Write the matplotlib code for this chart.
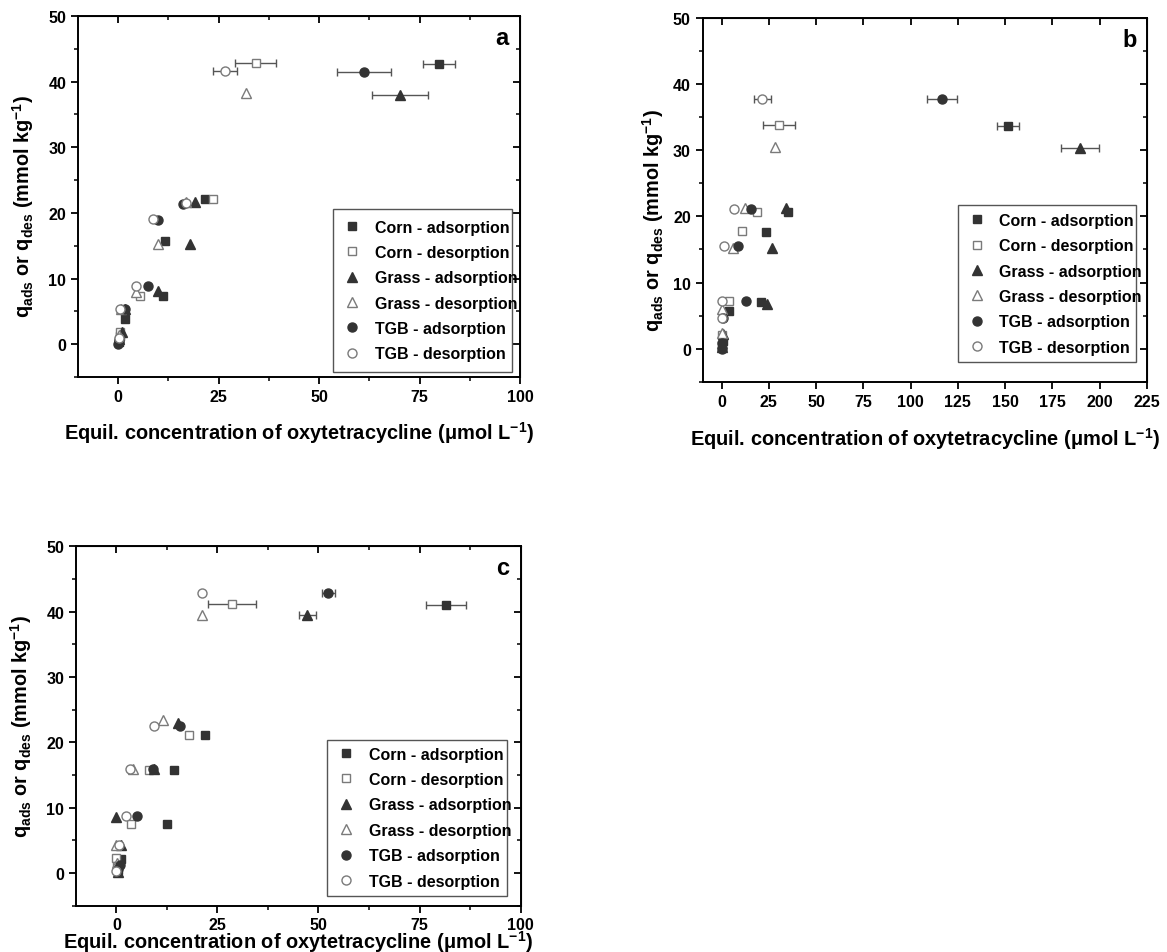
import matplotlib
matplotlib.use("Agg")
import matplotlib.pyplot as plt
from matplotlib.patches import Rectangle
from matplotlib.ticker import MultipleLocator

# ---- data (x = equil. conc., y = q) ----
SERIES = ["Corn - adsorption", "Corn - desorption", "Grass - adsorption",
          "Grass - desorption", "TGB - adsorption", "TGB - desorption"]

# panel a
A_CORN_ADS_X = [79.8, 21.5, 11.6, 11.2, 1.6, 0.5, 0.2]
A_CORN_ADS_Y = [42.7, 22.1, 15.7, 7.3, 3.8, 1.2, 0.3]
A_CORN_DES_X = [34.2, 23.5, 5.4, 0.4, 0.1]
A_CORN_DES_Y = [42.9, 22.1, 7.4, 1.8, 0.6]
A_GRASS_ADS_X = [70.1, 19.1, 18.0, 9.8, 1.8, 1.0, 0.3]
A_GRASS_ADS_Y = [38.0, 21.6, 15.3, 8.1, 5.4, 1.9, 0.8]
A_GRASS_DES_X = [31.9, 16.9, 10.0, 4.5, 0.6, 0.2]
A_GRASS_DES_Y = [38.2, 21.6, 15.3, 8.0, 5.4, 1.4]
A_TGB_ADS_X = [61.2, 16.2, 9.9, 7.4, 1.8, 0.2, 0.0]
A_TGB_ADS_Y = [41.5, 21.4, 18.9, 8.8, 5.3, 0.5, 0.0]
A_TGB_DES_X = [26.5, 16.8, 8.6, 4.4, 0.5, 0.1]
A_TGB_DES_Y = [41.6, 21.5, 19.0, 8.8, 5.3, 1.0]
A_XERR = [4.0, 5.0, 7.0, 0.0, 6.8, 3.0]

# panel b
B_CORN_ADS_X = [151.5, 35.2, 23.3, 21.1, 4.0, 0.5, 0.3]
B_CORN_ADS_Y = [33.6, 20.6, 17.7, 7.1, 5.7, 1.2, 0.6]
B_CORN_DES_X = [30.3, 18.5, 10.6, 4.0, 0.2]
B_CORN_DES_Y = [33.8, 20.7, 17.8, 7.2, 2.0]
B_GRASS_ADS_X = [189.4, 34.0, 26.7, 23.8, 0.9, 0.2]
B_GRASS_ADS_Y = [30.3, 21.2, 15.2, 6.7, 2.2, 0.3]
B_GRASS_DES_X = [28.2, 12.3, 6.1, 0.0, 0.3, 0.0]
B_GRASS_DES_Y = [30.5, 21.2, 15.2, 6.0, 2.3, 0.9]
B_TGB_ADS_X = [116.8, 15.5, 8.8, 12.7, 0.9, 0.3, 0.2]
B_TGB_ADS_Y = [37.8, 21.1, 15.5, 7.2, 4.7, 0.8, 0.0]
B_TGB_DES_X = [21.5, 6.7, 1.2, 0.0, 0.0]
B_TGB_DES_Y = [37.8, 21.1, 15.5, 7.2, 4.7]
B_XERR = [6.0, 8.6, 10.0, 0.0, 8.0, 4.5]

# panel c
C_CORN_ADS_X = [81.5, 21.9, 14.2, 12.5, 1.2, 0.3]
C_CORN_ADS_Y = [41.1, 21.1, 15.7, 7.5, 2.1, 0.4]
C_CORN_DES_X = [28.6, 17.9, 8.1, 3.7, 0.0, 0.2]
C_CORN_DES_Y = [41.2, 21.2, 15.8, 7.5, 2.3, 1.0]
C_GRASS_ADS_X = [47.2, 15.3, 9.4, 0.0, 1.2, 0.3]
C_GRASS_ADS_Y = [39.5, 23.0, 16.0, 8.6, 4.3, 0.2]
C_GRASS_DES_X = [21.3, 11.6, 4.1, 0.0, 0.1]
C_GRASS_DES_Y = [39.5, 23.4, 15.9, 4.3, 1.5]
C_TGB_ADS_X = [52.4, 15.7, 9.1, 5.1, 0.8, 0.5]
C_TGB_ADS_Y = [42.9, 22.5, 15.9, 8.8, 1.2, 0.6]
C_TGB_DES_X = [21.3, 9.2, 3.3, 2.3, 0.6, 0.0]
C_TGB_DES_Y = [42.9, 22.5, 16.0, 8.8, 4.3, 0.3]
C_XERR = [5.0, 5.9, 2.1, 0.0, 1.6, 0.0]

A_DATA = [(A_CORN_ADS_X, A_CORN_ADS_Y), (A_CORN_DES_X, A_CORN_DES_Y),
          (A_GRASS_ADS_X, A_GRASS_ADS_Y), (A_GRASS_DES_X, A_GRASS_DES_Y),
          (A_TGB_ADS_X, A_TGB_ADS_Y), (A_TGB_DES_X, A_TGB_DES_Y)]
B_DATA = [(B_CORN_ADS_X, B_CORN_ADS_Y), (B_CORN_DES_X, B_CORN_DES_Y),
          (B_GRASS_ADS_X, B_GRASS_ADS_Y), (B_GRASS_DES_X, B_GRASS_DES_Y),
          (B_TGB_ADS_X, B_TGB_ADS_Y), (B_TGB_DES_X, B_TGB_DES_Y)]
C_DATA = [(C_CORN_ADS_X, C_CORN_ADS_Y), (C_CORN_DES_X, C_CORN_DES_Y),
          (C_GRASS_ADS_X, C_GRASS_ADS_Y), (C_GRASS_DES_X, C_GRASS_DES_Y),
          (C_TGB_ADS_X, C_TGB_ADS_Y), (C_TGB_DES_X, C_TGB_DES_Y)]

plt.rcParams["font.family"] = ["Liberation Sans", "DejaVu Sans"]
plt.rcParams["font.weight"] = "bold"
plt.rcParams["mathtext.fontset"] = "custom"
plt.rcParams["mathtext.rm"] = "Liberation Sans"
plt.rcParams["mathtext.bf"] = "Liberation Sans:bold"
plt.rcParams["mathtext.default"] = "bf"

MARKERS = ["s", "s", "^", "^", "o", "o"]
FILLED = [True, False, True, False, True, False]
DARK = "#333333"
LIGHT = "#7a7a7a"

X_LABEL = "Equil. concentration of oxytetracycline (\u03bcmol L$^{-1}$)"
Y_LABEL = "q$_{ads}$ or q$_{des}$ (mmol kg$^{-1}$)"


def panel(fig, rect, data, xerr, xmax, letter, xminor, xlabel_pad, ylab_xy, box):
    ax = fig.add_axes(rect)
    for i, (xs, ys) in enumerate(data):
        color = DARK if FILLED[i] else LIGHT
        face = DARK if FILLED[i] else "white"
        if xerr[i] > 0:
            ax.errorbar(xs[0], ys[0], xerr=xerr[i], fmt="none", ecolor="#555555",
                        elinewidth=1.0, capsize=3, capthick=1.0, zorder=2)
        ax.plot(xs, ys, MARKERS[i], ms=6.5 if MARKERS[i] != "s" else 6,
                mfc=face, mec=color, mew=1.0, label=SERIES[i], zorder=3)

    ax.set_xlim(-10, xmax)
    ax.set_ylim(-5, 50)
    ax.xaxis.set_major_locator(MultipleLocator(25))
    if xminor:
        ax.xaxis.set_minor_locator(MultipleLocator(12.5))
    ax.yaxis.set_major_locator(MultipleLocator(10))
    ax.yaxis.set_minor_locator(MultipleLocator(5))
    ax.tick_params(which="major", direction="out", length=5, width=1.3,
                   labelsize=11.5)
    ax.tick_params(which="minor", direction="out", length=3, width=1.1)
    for lab in ax.get_xticklabels() + ax.get_yticklabels():
        lab.set_fontweight("bold")
    for sp in ax.spines.values():
        sp.set_linewidth(1.4)

    top = ax.secondary_xaxis("top")
    top.xaxis.set_major_locator(MultipleLocator(25))
    if xminor:
        top.xaxis.set_minor_locator(MultipleLocator(12.5))
    top.tick_params(which="major", direction="in", length=5, width=1.3, labeltop=False)
    top.tick_params(which="minor", direction="in", length=3, width=1.1)
    right = ax.secondary_yaxis("right")
    right.yaxis.set_major_locator(MultipleLocator(10))
    right.yaxis.set_minor_locator(MultipleLocator(5))
    right.tick_params(which="major", direction="in", length=5, width=1.3, labelright=False)
    right.tick_params(which="minor", direction="in", length=3, width=1.1)

    ax.set_xlabel(X_LABEL, fontsize=14.4, fontweight="bold", labelpad=xlabel_pad)
    ax.set_ylabel(Y_LABEL, fontsize=14.3, fontweight="bold")
    ax.yaxis.set_label_coords(*ylab_xy)
    ax.text(0.96, 0.94, letter, transform=ax.transAxes, fontsize=17,
            fontweight="bold", ha="center", va="center")

    # legend frame drawn by hand: the labels run over its right edge
    x0, y0, x1, y1 = box
    ax.add_patch(Rectangle((x0, y0), x1 - x0, y1 - y0, transform=ax.transAxes,
                           facecolor="white", edgecolor="#555555", lw=1.0,
                           zorder=4))
    leg = ax.legend(loc="center left", bbox_to_anchor=(x0, (y0 + y1) / 2),
                    prop={"size": 11.5, "weight": "bold"}, frameon=False,
                    handletextpad=0.9, labelspacing=0.65, borderpad=0.7,
                    handlelength=1.0, borderaxespad=0)
    leg.set_zorder(5)
    return ax


fig = plt.figure(figsize=(11.67, 9.53), dpi=100)
fig.patch.set_facecolor("white")

panel(fig, [0.0668, 0.6034, 0.3788, 0.3788], A_DATA, A_XERR, 100, "a", True,
      11, (-0.095, 0.474), (0.577, 0.014, 0.982, 0.465))
panel(fig, [0.6021, 0.5984, 0.3807, 0.3816], B_DATA, B_XERR, 225, "b", False,
      12, (-0.082, 0.447), (0.574, 0.053, 0.975, 0.486))
panel(fig, [0.0651, 0.0486, 0.3810, 0.3770], C_DATA, C_XERR, 100, "c", True,
      -3, (-0.094, 0.5), (0.565, 0.028, 0.969, 0.462))

fig.savefig("out.png", dpi=100, facecolor="white")
